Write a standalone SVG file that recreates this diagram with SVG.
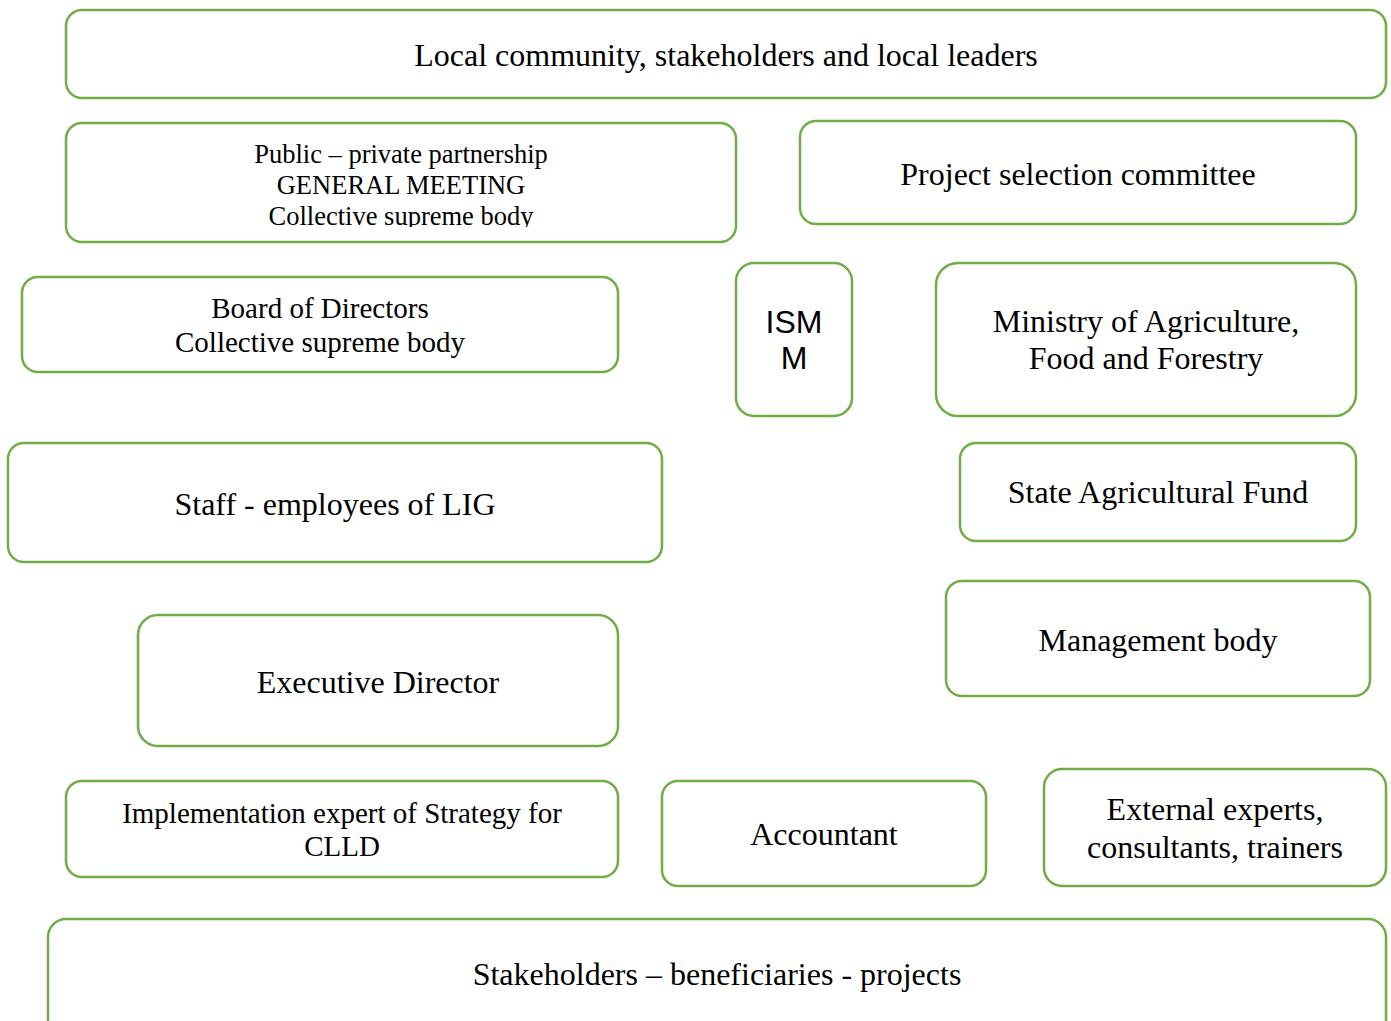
<svg xmlns="http://www.w3.org/2000/svg" width="1391" height="1021" viewBox="0 0 1391 1021">
<style>
.box{fill:#ffffff;stroke:#70AD47;stroke-width:2.5}
.t{font-family:"Liberation Serif","Times New Roman",serif;font-size:32px;fill:#000;text-anchor:middle}
.s{font-family:"Liberation Sans",Arial,sans-serif;font-size:32px;fill:#000;text-anchor:middle}
</style>
<defs>
<clipPath id="clipPub"><rect x="66" y="123" width="670" height="104"/></clipPath>
</defs>
<rect width="1391" height="1021" fill="#ffffff"/>
<g id="connectors"></g>
<g id="n-local">
<rect class="box" x="66" y="10" width="1320" height="88" rx="16"/>
<text class="t" x="726" y="66">Local community, stakeholders and local leaders</text>
</g>
<g id="n-ppp">
<rect class="box" x="66" y="123" width="670" height="119" rx="16"/>
<g clip-path="url(#clipPub)">
<text class="t" style="font-size:26.5px" x="401" y="163">Public – private partnership</text>
<text class="t" style="font-size:26.5px" x="401" y="194">GENERAL MEETING</text>
<text class="t" style="font-size:26.5px" x="401" y="225">Collective supreme body</text>
</g>
</g>
<g id="n-psc">
<rect class="box" x="800" y="121" width="556" height="103" rx="16"/>
<text class="t" x="1078" y="185">Project selection committee</text>
</g>
<g id="n-board">
<rect class="box" x="22" y="277" width="596" height="95" rx="16"/>
<text class="t" style="font-size:29px" x="320" y="318">Board of Directors</text>
<text class="t" style="font-size:29px" x="320" y="352">Collective supreme body</text>
</g>
<g id="n-ismm">
<rect class="box" x="736" y="263" width="116" height="153" rx="18"/>
<text class="s" x="794" y="333">ISM</text>
<text class="s" x="794" y="369">M</text>
</g>
<g id="n-ministry">
<rect class="box" x="936" y="263" width="420" height="153" rx="22"/>
<text class="t" x="1146" y="332">Ministry of Agriculture,</text>
<text class="t" x="1146" y="369">Food and Forestry</text>
</g>
<g id="n-staff">
<rect class="box" x="8" y="443" width="654" height="119" rx="16"/>
<text class="t" x="335" y="515">Staff - employees of LIG</text>
</g>
<g id="n-saf">
<rect class="box" x="960" y="443" width="396" height="98" rx="16"/>
<text class="t" x="1158" y="503">State Agricultural Fund</text>
</g>
<g id="n-mgmt">
<rect class="box" x="946" y="581" width="424" height="115" rx="16"/>
<text class="t" x="1158" y="651">Management body</text>
</g>
<g id="n-exec">
<rect class="box" x="138" y="615" width="480" height="131" rx="20"/>
<text class="t" x="378" y="693">Executive Director</text>
</g>
<g id="n-impl">
<rect class="box" x="66" y="781" width="552" height="96" rx="16"/>
<text class="t" style="font-size:29px" x="342" y="823">Implementation expert of Strategy for</text>
<text class="t" style="font-size:29px" x="342" y="856">CLLD</text>
</g>
<g id="n-acc">
<rect class="box" x="662" y="781" width="324" height="105" rx="16"/>
<text class="t" x="824" y="845">Accountant</text>
</g>
<g id="n-ext">
<rect class="box" x="1044" y="769" width="342" height="117" rx="18"/>
<text class="t" x="1215" y="820">External experts,</text>
<text class="t" x="1215" y="858">consultants, trainers</text>
</g>
<g id="n-stake">
<rect class="box" x="48" y="919" width="1338" height="120" rx="18"/>
<text class="t" x="717" y="985">Stakeholders – beneficiaries - projects</text>
</g>
</svg>
